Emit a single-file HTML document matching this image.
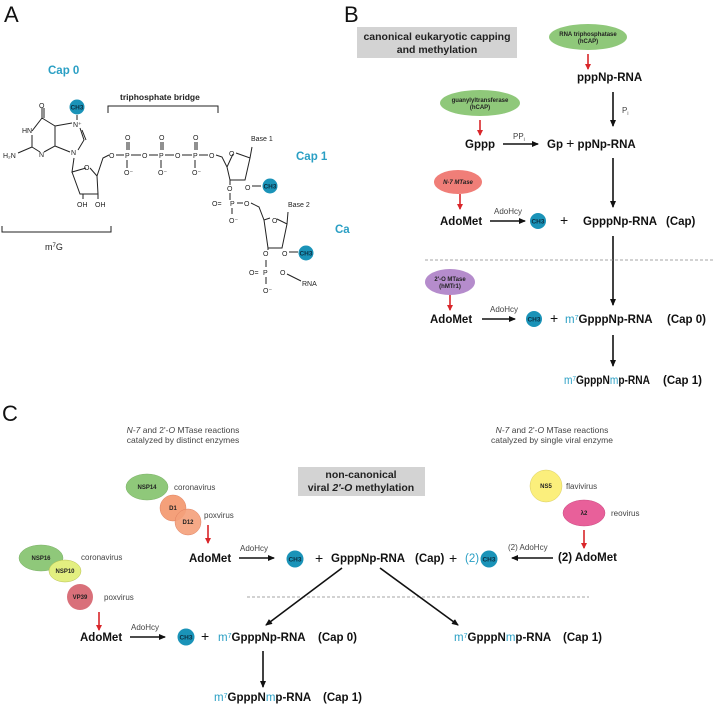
<!DOCTYPE html>
<html><head><meta charset="utf-8"><style>
html,body{margin:0;padding:0;background:#fff;}
svg{display:block;font-family:"Liberation Sans",Arial,sans-serif;}
.b{font-weight:bold;font-size:11.5px;fill:#111;}
.t{fill:#2a9fc4;}
.s{font-size:7px;fill:#222;}
.e{font-size:6px;font-weight:bold;fill:#222;text-anchor:middle;}
.g{font-size:8.5px;fill:#444;}
.c{font-size:8px;fill:#444;}
.ln{stroke:#222;stroke-width:1;fill:none;}
.ar{stroke:#111;stroke-width:1.6;fill:none;marker-end:url(#ah);}
.rr{stroke:#d9262a;stroke-width:1.6;fill:none;marker-end:url(#rh);}
.ch{fill:#1a93b8;}
.cht{font-size:6.5px;font-weight:bold;fill:#0a2d40;text-anchor:middle;}
</style></head><body>
<svg width="714" height="704" viewBox="0 0 714 704">
<defs>
<marker id="ah" markerWidth="8" markerHeight="8" refX="6" refY="3" orient="auto" markerUnits="userSpaceOnUse"><path d="M0,0 L7,3 L0,6 z" fill="#111"/></marker>
<marker id="rh" markerWidth="8" markerHeight="8" refX="5" refY="3" orient="auto" markerUnits="userSpaceOnUse"><path d="M0,0 L6,3 L0,6 z" fill="#d9262a"/></marker>
</defs>
<!-- Panel A -->
<text x="4" y="22" font-size="22" fill="#111">A</text>
<text x="48" y="74" class="b t">Cap 0</text>
<text x="120" y="100" font-size="8.5" font-weight="bold" fill="#222">triphosphate bridge</text>
<path class="ln" d="M108,113 V106 H218 V113"/>
<circle cx="77" cy="107" r="7.5" class="ch"/><text x="77" y="109.5" class="cht">CH3</text>
<path class="ln" d="M42,108 V118 M44,108 V118 M42,118 L55,126 L55,146 L44,152 M40,152 L32,147 L32,135 M32,131 L42,118 M32,147 L18,153 M55,126 L72,123 M80,128 L84,140 L78,150 M82,130 L86,140 M70,152 L55,146 M77,115 V120 M74,158 L72,172 L86,168 M90,168 L97,176 L98,194 L80,194 L72,172 M83,194 V199 M98,194 V199 M97,176 L103,158 L109,155"/>
<text x="39" y="108" class="s">O</text>
<text x="22" y="133" class="s">HN</text>
<text x="3" y="158" class="s">H₂N</text>
<text x="39" y="157" class="s">N</text>
<text x="71" y="155" class="s">N</text>
<text x="73" y="127" class="s">N⁺</text>
<text x="84" y="170" class="s">O</text>
<text x="77" y="207" class="s">OH</text>
<text x="95" y="207" class="s">OH</text>
<g class="s">
<text x="109" y="158">O</text><text x="125" y="158">P</text><text x="142" y="158">O</text><text x="159" y="158">P</text><text x="175" y="158">O</text><text x="193" y="158">P</text><text x="209" y="158">O</text>
<text x="125" y="140">O</text><text x="159" y="140">O</text><text x="193" y="140">O</text>
<text x="124" y="175">O⁻</text><text x="158" y="175">O⁻</text><text x="192" y="175">O⁻</text>
<text x="251" y="141">Base 1</text><text x="229" y="156">O</text>
<text x="245" y="190">O</text><text x="227" y="191">O</text>
<text x="212" y="206">O=</text><text x="230" y="206">P</text><text x="244" y="206">O</text><text x="229" y="223">O⁻</text>
<text x="288" y="207">Base 2</text><text x="272" y="223">O</text>
<text x="263" y="256">O</text><text x="282" y="256">O</text>
<text x="249" y="275">O=</text><text x="263" y="275">P</text><text x="280" y="275">O</text><text x="263" y="293">O⁻</text>
<text x="302" y="286">RNA</text>
</g>
<path class="ln" d="M116,155 H124 M131,155 H141 M149,155 H158 M165,155 H174 M182,155 H192 M199,155 H208 M127,142 V150 M129,142 V150 M161,142 V150 M163,142 V150 M195,142 V150 M197,142 V150 M127,160 V168 M161,160 V168 M195,160 V168 M216,155 L222,157 L227,167 M227,167 L233,154 M236,153 L250,158 L252,147 M250,158 L245,180 L230,180 L227,167 M230,180 V185 M252,186 L261,186 M230,193 V200 M237,203 H243 M232,208 V214 M251,203 L259,207 L264,220 L270,218 M277,219 L287,224 L288,212 M287,224 L282,248 L268,248 L264,220 M268,248 V250 M289,252 H298 M266,260 V267 M266,277 V284 M287,274 L301,281"/>
<circle cx="270" cy="186" r="7.5" class="ch"/><text x="270" y="188.5" class="cht">CH3</text>
<circle cx="306" cy="253" r="7.5" class="ch"/><text x="306" y="255.5" class="cht">CH3</text>
<text x="296" y="160" class="b t">Cap 1</text>
<text x="335" y="233" class="b t">Ca</text>
<path class="ln" d="M2,226 V232 H111 V226"/>
<text x="45" y="250" font-size="9" fill="#222">m<tspan font-size="6" dy="-3">7</tspan><tspan dy="3">G</tspan></text>

<!-- Panel B -->
<text x="344" y="22" font-size="22" fill="#111">B</text>
<rect x="357" y="27" width="160" height="31" fill="#d3d3d3"/>
<text x="437" y="40" text-anchor="middle" font-size="10.5" font-weight="bold" fill="#222">canonical eukaryotic capping</text>
<text x="437" y="53" text-anchor="middle" font-size="10.5" font-weight="bold" fill="#222">and methylation</text>
<ellipse cx="588" cy="37" rx="39" ry="13" fill="#8fc87a"/>
<text x="588" y="36" class="e">RNA triphosphatase</text><text x="588" y="43" class="e">(hCAP)</text>
<path class="rr" d="M588,54 V69"/>
<text x="577" y="81" class="b">pppNp-RNA</text>
<path class="ar" d="M613,92 V126"/>
<text x="622" y="113" font-size="8" fill="#444">P<tspan font-size="5" dy="2">i</tspan></text>
<ellipse cx="480" cy="103" rx="40" ry="13" fill="#8fc87a"/>
<text x="480" y="102" class="e">guanylyltransferase</text><text x="480" y="109" class="e">(hCAP)</text>
<path class="rr" d="M480,120 V135"/>
<text x="465" y="148" class="b">Gppp</text>
<path class="ar" d="M503,144 H538"/>
<text x="513" y="139" font-size="8" fill="#444">PP<tspan font-size="5" dy="2">i</tspan></text>
<text x="547" y="148" class="b">Gp <tspan font-size="14" font-weight="normal">+</tspan>  ppNp-RNA</text>
<path class="ar" d="M613,158 V207"/>
<ellipse cx="458" cy="182" rx="24" ry="12" fill="#f07e78"/>
<text x="458" y="184" class="e" font-style="italic">N-7 MTase</text>
<path class="rr" d="M460,194 V209"/>
<text x="440" y="225" class="b">AdoMet</text>
<path class="ar" d="M490,221 H525"/>
<text x="494" y="214" font-size="8" fill="#444">AdoHcy</text>
<circle cx="538" cy="221" r="8" class="ch"/><text x="538" y="223.5" class="cht">CH3</text>
<text x="560" y="225" font-size="14" fill="#111">+</text>
<text x="583" y="225" class="b">GpppNp-RNA</text><text x="666" y="225" class="b">(Cap)</text>
<path class="ar" d="M613,236 V305"/>
<line x1="425" y1="260" x2="714" y2="260" stroke="#888" stroke-width="0.8" stroke-dasharray="3,2"/>
<ellipse cx="450" cy="282" rx="25" ry="13" fill="#b58ccc"/>
<text x="450" y="281" class="e">2'-O MTase</text><text x="450" y="288" class="e">(hMTr1)</text>
<path class="rr" d="M450,295 V310"/>
<text x="430" y="323" class="b">AdoMet</text>
<path class="ar" d="M482,319 H515"/>
<text x="490" y="312" font-size="8" fill="#444">AdoHcy</text>
<circle cx="534" cy="319" r="8" class="ch"/><text x="534" y="321.5" class="cht">CH3</text>
<text x="550" y="323" font-size="14" fill="#111">+</text>
<text x="565" y="323" class="b"><tspan class="t" font-weight="normal">m<tspan font-size="7" dy="-3">7</tspan></tspan><tspan dy="3">GpppNp-RNA</tspan></text>
<text x="667" y="323" class="b">(Cap 0)</text>
<path class="ar" d="M613,335 V366"/>
<text x="564" y="384" class="b" textLength="86" lengthAdjust="spacingAndGlyphs"><tspan class="t" font-weight="normal">m<tspan font-size="7" dy="-3">7</tspan></tspan><tspan dy="3">GpppN</tspan><tspan class="t" font-weight="normal">m</tspan>p-RNA</text>
<text x="663" y="384" class="b">(Cap 1)</text>

<!-- Panel C -->
<text x="2" y="421" font-size="22" fill="#111">C</text>
<text x="183" y="433" text-anchor="middle" class="g"><tspan font-style="italic">N-7</tspan> and 2'-<tspan font-style="italic">O</tspan> MTase reactions</text>
<text x="183" y="443" text-anchor="middle" class="g">catalyzed by distinct enzymes</text>
<text x="552" y="433" text-anchor="middle" class="g"><tspan font-style="italic">N-7</tspan> and 2'-<tspan font-style="italic">O</tspan> MTase reactions</text>
<text x="552" y="443" text-anchor="middle" class="g">catalyzed by single viral enzyme</text>
<rect x="298" y="467" width="127" height="29" fill="#d3d3d3"/>
<text x="361" y="478" text-anchor="middle" font-size="10.5" font-weight="bold" fill="#222">non-canonical</text>
<text x="361" y="491" text-anchor="middle" font-size="10.5" font-weight="bold" fill="#222">viral <tspan font-style="italic">2'-O</tspan> methylation</text>
<ellipse cx="147" cy="487" rx="21" ry="13" fill="#8fc87a" stroke="#7ab066" stroke-width="0.5"/>
<text x="147" y="489" class="e">NSP14</text><text x="174" y="490" class="c">coronavirus</text>
<ellipse cx="173" cy="508" rx="13" ry="13" fill="#f4a07a" stroke="#e08060" stroke-width="0.5"/>
<ellipse cx="188" cy="522" rx="13" ry="13" fill="#f4a07a" fill-opacity="0.9" stroke="#e08060" stroke-width="0.5"/>
<text x="173" y="510" class="e">D1</text><text x="188" y="524" class="e">D12</text>
<text x="204" y="518" class="c">poxvirus</text>
<path class="rr" d="M208,525 V543"/>
<text x="189" y="562" class="b">AdoMet</text>
<path class="ar" d="M239,558 H274"/>
<text x="240" y="551" font-size="8" fill="#444">AdoHcy</text>
<circle cx="295" cy="559" r="8.5" class="ch"/><text x="295" y="561.5" class="cht">CH3</text>
<text x="315" y="563" font-size="14" fill="#111">+</text>
<text x="331" y="562" class="b">GpppNp-RNA</text><text x="415" y="562" class="b">(Cap)</text>
<text x="449" y="563" font-size="14" fill="#111">+</text>
<text x="465" y="562" font-size="11.5" class="t">(2)</text>
<circle cx="489" cy="559" r="8.5" class="ch"/><text x="489" y="561.5" class="cht">CH3</text>
<path class="ar" d="M553,558 H512"/>
<text x="508" y="550" font-size="8" fill="#444">(2) AdoHcy</text>
<text x="558" y="561" class="b">(2) AdoMet</text>
<ellipse cx="546" cy="486" rx="16" ry="16" fill="#fbef7c" stroke="#d8cc60" stroke-width="0.5"/>
<text x="546" y="488" class="e">NS5</text><text x="566" y="489" class="c">flavivirus</text>
<ellipse cx="584" cy="513" rx="21" ry="13" fill="#e8609a" stroke="#c84880" stroke-width="0.5"/>
<text x="584" y="515" class="e">λ2</text><text x="611" y="516" class="c">reovirus</text>
<path class="rr" d="M584,530 V548"/>
<ellipse cx="41" cy="558" rx="22" ry="13" fill="#8fc87a" stroke="#7ab066" stroke-width="0.5"/>
<ellipse cx="65" cy="571" rx="16" ry="11" fill="#e3ef80" stroke="#b8c050" stroke-width="0.5"/>
<text x="41" y="560" class="e">NSP16</text><text x="65" y="573" class="e">NSP10</text>
<text x="81" y="560" class="c">coronavirus</text>
<ellipse cx="80" cy="597" rx="13" ry="13" fill="#d9707a"/>
<text x="80" y="599" class="e">VP39</text><text x="104" y="600" class="c">poxvirus</text>
<path class="rr" d="M99,612 V630"/>
<text x="80" y="641" class="b">AdoMet</text>
<path class="ar" d="M130,637 H165"/>
<text x="131" y="630" font-size="8" fill="#444">AdoHcy</text>
<circle cx="186" cy="637" r="8.5" class="ch"/><text x="186" y="639.5" class="cht">CH3</text>
<text x="201" y="641" font-size="14" fill="#111">+</text>
<text x="218" y="641" class="b"><tspan class="t" font-weight="normal">m<tspan font-size="7" dy="-3">7</tspan></tspan><tspan dy="3">GpppNp-RNA</tspan></text>
<text x="318" y="641" class="b">(Cap 0)</text>
<line x1="247" y1="597" x2="589" y2="597" stroke="#888" stroke-width="0.8" stroke-dasharray="3,2"/>
<path class="ar" d="M342,568 L266,625"/>
<path class="ar" d="M380,568 L458,625"/>
<text x="454" y="641" class="b"><tspan class="t" font-weight="normal">m<tspan font-size="7" dy="-3">7</tspan></tspan><tspan dy="3">GpppN</tspan><tspan class="t" font-weight="normal">m</tspan>p-RNA</text>
<text x="563" y="641" class="b">(Cap 1)</text>
<path class="ar" d="M263,651 V687"/>
<text x="214" y="701" class="b"><tspan class="t" font-weight="normal">m<tspan font-size="7" dy="-3">7</tspan></tspan><tspan dy="3">GpppN</tspan><tspan class="t" font-weight="normal">m</tspan>p-RNA</text>
<text x="323" y="701" class="b">(Cap 1)</text>
</svg>
</body></html>
